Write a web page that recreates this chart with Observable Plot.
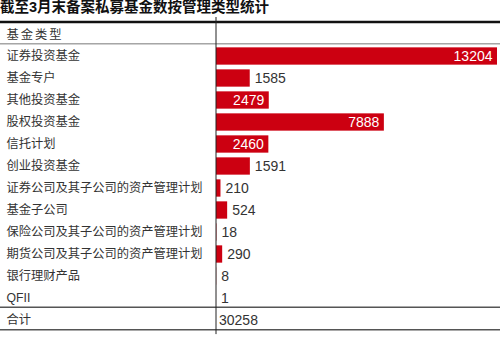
<!DOCTYPE html>
<html><head><meta charset="utf-8">
<script src="https://cdn.jsdelivr.net/npm/d3@7"></script>
<script src="https://cdn.jsdelivr.net/npm/@observablehq/plot@0.6"></script>
<style>
body{margin:0;background:#fff;width:500px;height:353px;overflow:hidden;}
#title{height:16px;line-height:14px;font-size:14.5px;font-weight:bold;color:#111;padding-left:0px;white-space:nowrap;font-family:"Liberation Sans","Noto Sans CJK SC",sans-serif;}
#chart svg{display:block;}
</style></head><body>
<div id="title"></div>
<div id="chart"></div>
<script>
const title = "截至3月末备案私募基金数按管理类型统计";
const headerLabel = "基金类型";
const categories = ["证券投资基金","基金专户","其他投资基金","股权投资基金","信托计划","创业投资基金","证券公司及其子公司的资产管理计划","基金子公司","保险公司及其子公司的资产管理计划","期货公司及其子公司的资产管理计划","银行理财产品","QFII"];
const values = [13204,1585,2479,7888,2460,1591,210,524,18,290,8,1];
const totalLabel = "合计";
const totalValue = 30258;

document.getElementById("title").textContent = title;

const rows = categories.map((c, i) => ({category: c, value: values[i]}));
const yDomain = [headerLabel, ...categories, totalLabel];
const inside = d => d.value > 2000;
const font = '"Liberation Sans","Noto Sans CJK SC",sans-serif';
const full = {insetLeft: -216, insetRight: -3};

const plot = Plot.plot({
  width: 500, height: 337,
  marginLeft: 216, marginRight: 3, marginTop: 2.3, marginBottom: 16.9,
  x: {domain: [0, d3.max(values)], axis: null},
  y: {domain: yDomain, type: "band", padding: 0, axis: null},
  style: {fontFamily: font, background: "#fff"},
  marks: [
    Plot.barX(rows, {x: "value", y: "category", fill: "#cc0011", insetTop: 2.35, insetBottom: 2.35}),
    Plot.text(rows.filter(inside), {x: "value", y: "category", text: d => String(d.value), textAnchor: "end", dx: -5, fill: "#fff", fontSize: 14}),
    Plot.text(rows.filter(d => !inside(d)), {x: "value", y: "category", text: d => String(d.value), textAnchor: "start", dx: 4.5, fill: "#333", fontSize: 14}),
    Plot.text(rows, {y: "category", text: "category", frameAnchor: "left", dx: -210, textAnchor: "start", fill: "#333", fontSize: 12.25}),
    Plot.text([headerLabel], {y: d => d, text: d => d, frameAnchor: "left", dx: -210, dy: 1, textAnchor: "start", fill: "#333", fontSize: 12.25}),
    Plot.text([totalLabel], {y: d => d, text: d => d, frameAnchor: "left", dx: -210, textAnchor: "start", fill: "#333", fontSize: 12.25}),
    Plot.text([{label: totalLabel, value: totalValue}], {y: "label", text: d => String(d.value), frameAnchor: "left", dx: 2.5, textAnchor: "start", fill: "#333", fontSize: 14}),
    Plot.ruleY([headerLabel], {y: d => d, dy: -12.45, stroke: "#111", strokeWidth: 2.5, ...full}),
    Plot.ruleY([headerLabel], {y: d => d, dy: 9.35, stroke: "#777", strokeWidth: 1, ...full}),
    Plot.ruleY([totalLabel], {y: d => d, dy: -13.25, stroke: "#555", strokeWidth: 1.3, ...full}),
    Plot.ruleY([totalLabel], {y: d => d, dy: 9.25, stroke: "#555", strokeWidth: 1.3, ...full}),
    Plot.ruleX([0], {x: d => d, dx: -0.5, stroke: "#222", strokeWidth: 1, insetTop: -1.3, insetBottom: 2})
  ]
});

d3.select(plot).selectAll("text").filter(function () { return this.textContent === headerLabel; }).style("letter-spacing", "2px");
document.getElementById("chart").appendChild(plot);
</script>
</body></html>
